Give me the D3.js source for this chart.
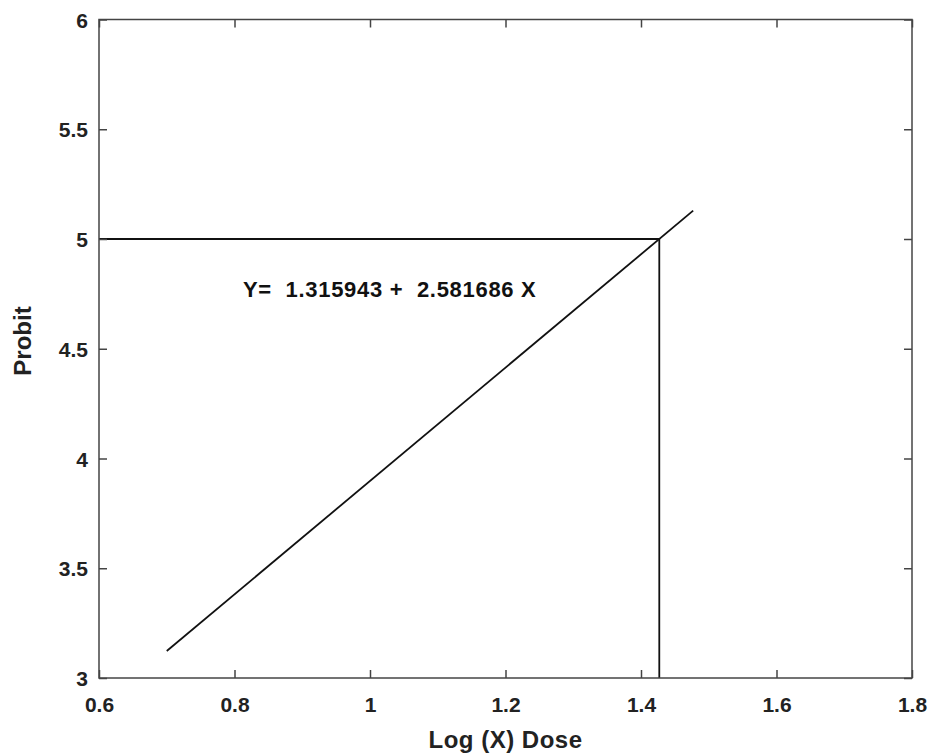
<!DOCTYPE html>
<html>
<head>
<meta charset="utf-8">
<script src="https://cdn.jsdelivr.net/npm/d3@7"></script>
<style>
  html, body { margin: 0; padding: 0; background: #fff; }
  svg { display: block; font-family: Arial, "Liberation Sans", sans-serif; }
</style>
</head>
<body>
<svg id="chart" width="931" height="753"></svg>
<script>
// Data
const xTicks = [0.6, 0.8, 1, 1.2, 1.4, 1.6, 1.8];
const yTicks = [3, 3.5, 4, 4.5, 5, 5.5, 6];
const intercept = 1.315943;
const slope = 2.581686;
const fitX = [0.7, 1.477];
const targetProbit = 5;
const equationLabel = "Y=  1.315943 +  2.581686 X";
const xLabel = "Log (X) Dose";
const yLabel = "Probit";

const svg = d3.select("#chart");
const m = { left: 99, right: 931 - 912, top: 19.5, bottom: 753 - 678 };
const W = 931, H = 753;
const x = d3.scaleLinear().domain([0.6, 1.8]).range([m.left, W - m.right]);
const y = d3.scaleLinear().domain([3, 6]).range([H - m.bottom, m.top]);

const axisColor = "#444";
const tickLen = 8;
const font = "Arial, 'Liberation Sans', sans-serif";

// Fit line
const fitPts = fitX.map(v => [x(v), y(intercept + slope * v)]);
svg.append("path")
  .attr("d", d3.line()(fitPts))
  .attr("stroke", "#111").attr("stroke-width", 1.8).attr("fill", "none");

// LD50 guide lines
const x50 = (targetProbit - intercept) / slope;
svg.append("path")
  .attr("d", d3.line()([[x(0.6), y(targetProbit)], [x(x50), y(targetProbit)], [x(x50), y(3)]]))
  .attr("stroke", "#111").attr("stroke-width", 1.8).attr("fill", "none");

// Axes box
svg.append("rect")
  .attr("x", x(0.6)).attr("y", y(6))
  .attr("width", x(1.8) - x(0.6)).attr("height", y(3) - y(6))
  .attr("fill", "none").attr("stroke", axisColor).attr("stroke-width", 1.5);

// Inward ticks via d3 axes
const gb = svg.append("g").attr("transform", `translate(0,${y(3)})`)
  .call(d3.axisBottom(x).tickValues(xTicks).tickSize(-tickLen).tickSizeOuter(0).tickFormat(d3.format("")));
const gt = svg.append("g").attr("transform", `translate(0,${y(6)})`)
  .call(d3.axisTop(x).tickValues(xTicks).tickSize(-tickLen).tickSizeOuter(0).tickFormat(""));
const gl = svg.append("g").attr("transform", `translate(${x(0.6)},0)`)
  .call(d3.axisLeft(y).tickValues(yTicks).tickSize(-tickLen).tickSizeOuter(0).tickFormat(d3.format("")));
const gr = svg.append("g").attr("transform", `translate(${x(1.8)},0)`)
  .call(d3.axisRight(y).tickValues(yTicks).tickSize(-tickLen).tickSizeOuter(0).tickFormat(""));

[gb, gt, gl, gr].forEach(g => {
  g.attr("font-size", null).attr("font-family", null);
  g.select(".domain").remove();
  g.selectAll(".tick line").attr("stroke", axisColor).attr("stroke-width", 1.5);
  g.selectAll("text").attr("fill", "#222").style("font-size", "21px").style("font-weight", "bold")
    .style("font-family", font);
});
gb.selectAll("text").attr("dy", null).attr("y", 0).attr("transform", "translate(0,34)");
gl.selectAll("text").attr("x", -11).attr("dy", "0.36em");

// Equation
svg.append("text")
  .attr("x", x(0.6) + 144).attr("y", 297)
  .style("font-size", "22px").style("font-weight", "bold").style("letter-spacing", "0.7px")
  .attr("fill", "#111")
  .style("white-space", "pre")
  .text(equationLabel);

// Axis labels
svg.append("text")
  .attr("x", (x(0.6) + x(1.8)) / 2).attr("y", 748)
  .attr("text-anchor", "middle").style("font-size", "24px").style("font-weight", "bold")
  .style("letter-spacing", "0.5px").attr("fill", "#222")
  .text(xLabel);
svg.append("text")
  .attr("transform", `translate(31,341) rotate(-90)`)
  .attr("text-anchor", "middle").style("font-size", "24px").style("font-weight", "bold").attr("fill", "#222")
  .text(yLabel);
</script>
</body>
</html>
